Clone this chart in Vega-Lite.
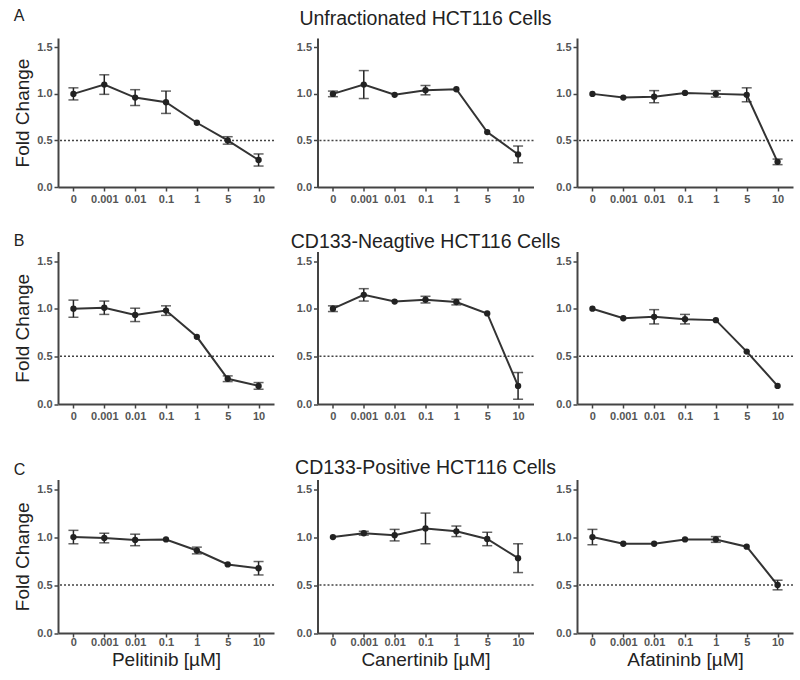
{
  "$schema": "https://vega.github.io/schema/vega-lite/v6.json",
  "padding": {"left": 13, "top": 8, "right": 7, "bottom": 4},
  "background": "white",
  "datasets": {
    "d": [
      {"row": "A", "drug": "Pelitinib", "conc": "0", "mean": 1.00, "err": 0.065},
      {"row": "A", "drug": "Pelitinib", "conc": "0.001", "mean": 1.10, "err": 0.105},
      {"row": "A", "drug": "Pelitinib", "conc": "0.01", "mean": 0.96, "err": 0.085},
      {"row": "A", "drug": "Pelitinib", "conc": "0.1", "mean": 0.91, "err": 0.12},
      {"row": "A", "drug": "Pelitinib", "conc": "1", "mean": 0.69, "err": 0},
      {"row": "A", "drug": "Pelitinib", "conc": "5", "mean": 0.50, "err": 0.04},
      {"row": "A", "drug": "Pelitinib", "conc": "10", "mean": 0.29, "err": 0.065},
      {"row": "A", "drug": "Canertinib", "conc": "0", "mean": 1.00, "err": 0.03},
      {"row": "A", "drug": "Canertinib", "conc": "0.001", "mean": 1.10, "err": 0.15},
      {"row": "A", "drug": "Canertinib", "conc": "0.01", "mean": 0.99, "err": 0},
      {"row": "A", "drug": "Canertinib", "conc": "0.1", "mean": 1.04, "err": 0.05},
      {"row": "A", "drug": "Canertinib", "conc": "1", "mean": 1.05, "err": 0},
      {"row": "A", "drug": "Canertinib", "conc": "5", "mean": 0.59, "err": 0},
      {"row": "A", "drug": "Canertinib", "conc": "10", "mean": 0.35, "err": 0.09},
      {"row": "A", "drug": "Afatinib", "conc": "0", "mean": 1.00, "err": 0},
      {"row": "A", "drug": "Afatinib", "conc": "0.001", "mean": 0.96, "err": 0},
      {"row": "A", "drug": "Afatinib", "conc": "0.01", "mean": 0.97, "err": 0.065},
      {"row": "A", "drug": "Afatinib", "conc": "0.1", "mean": 1.01, "err": 0},
      {"row": "A", "drug": "Afatinib", "conc": "1", "mean": 1.00, "err": 0.035},
      {"row": "A", "drug": "Afatinib", "conc": "5", "mean": 0.99, "err": 0.075},
      {"row": "A", "drug": "Afatinib", "conc": "10", "mean": 0.27, "err": 0.03},
      {"row": "B", "drug": "Pelitinib", "conc": "0", "mean": 1.00, "err": 0.09},
      {"row": "B", "drug": "Pelitinib", "conc": "0.001", "mean": 1.01, "err": 0.07},
      {"row": "B", "drug": "Pelitinib", "conc": "0.01", "mean": 0.935, "err": 0.07},
      {"row": "B", "drug": "Pelitinib", "conc": "0.1", "mean": 0.98, "err": 0.05},
      {"row": "B", "drug": "Pelitinib", "conc": "1", "mean": 0.705, "err": 0},
      {"row": "B", "drug": "Pelitinib", "conc": "5", "mean": 0.265, "err": 0.03},
      {"row": "B", "drug": "Pelitinib", "conc": "10", "mean": 0.19, "err": 0.035},
      {"row": "B", "drug": "Canertinib", "conc": "0", "mean": 1.00, "err": 0.03},
      {"row": "B", "drug": "Canertinib", "conc": "0.001", "mean": 1.145, "err": 0.065},
      {"row": "B", "drug": "Canertinib", "conc": "0.01", "mean": 1.075, "err": 0},
      {"row": "B", "drug": "Canertinib", "conc": "0.1", "mean": 1.095, "err": 0.035},
      {"row": "B", "drug": "Canertinib", "conc": "1", "mean": 1.07, "err": 0.03},
      {"row": "B", "drug": "Canertinib", "conc": "5", "mean": 0.95, "err": 0},
      {"row": "B", "drug": "Canertinib", "conc": "10", "mean": 0.19, "err": 0.14},
      {"row": "B", "drug": "Afatinib", "conc": "0", "mean": 1.00, "err": 0},
      {"row": "B", "drug": "Afatinib", "conc": "0.001", "mean": 0.90, "err": 0},
      {"row": "B", "drug": "Afatinib", "conc": "0.01", "mean": 0.915, "err": 0.075},
      {"row": "B", "drug": "Afatinib", "conc": "0.1", "mean": 0.89, "err": 0.05},
      {"row": "B", "drug": "Afatinib", "conc": "1", "mean": 0.88, "err": 0},
      {"row": "B", "drug": "Afatinib", "conc": "5", "mean": 0.55, "err": 0},
      {"row": "B", "drug": "Afatinib", "conc": "10", "mean": 0.19, "err": 0},
      {"row": "C", "drug": "Pelitinib", "conc": "0", "mean": 1.00, "err": 0.07},
      {"row": "C", "drug": "Pelitinib", "conc": "0.001", "mean": 0.99, "err": 0.05},
      {"row": "C", "drug": "Pelitinib", "conc": "0.01", "mean": 0.97, "err": 0.06},
      {"row": "C", "drug": "Pelitinib", "conc": "0.1", "mean": 0.975, "err": 0},
      {"row": "C", "drug": "Pelitinib", "conc": "1", "mean": 0.86, "err": 0.035},
      {"row": "C", "drug": "Pelitinib", "conc": "5", "mean": 0.715, "err": 0},
      {"row": "C", "drug": "Pelitinib", "conc": "10", "mean": 0.675, "err": 0.07},
      {"row": "C", "drug": "Canertinib", "conc": "0", "mean": 1.00, "err": 0},
      {"row": "C", "drug": "Canertinib", "conc": "0.001", "mean": 1.04, "err": 0.02},
      {"row": "C", "drug": "Canertinib", "conc": "0.01", "mean": 1.02, "err": 0.06},
      {"row": "C", "drug": "Canertinib", "conc": "0.1", "mean": 1.09, "err": 0.16},
      {"row": "C", "drug": "Canertinib", "conc": "1", "mean": 1.06, "err": 0.055},
      {"row": "C", "drug": "Canertinib", "conc": "5", "mean": 0.98, "err": 0.07},
      {"row": "C", "drug": "Canertinib", "conc": "10", "mean": 0.78, "err": 0.15},
      {"row": "C", "drug": "Afatinib", "conc": "0", "mean": 1.00, "err": 0.08},
      {"row": "C", "drug": "Afatinib", "conc": "0.001", "mean": 0.93, "err": 0},
      {"row": "C", "drug": "Afatinib", "conc": "0.01", "mean": 0.93, "err": 0},
      {"row": "C", "drug": "Afatinib", "conc": "0.1", "mean": 0.975, "err": 0},
      {"row": "C", "drug": "Afatinib", "conc": "1", "mean": 0.975, "err": 0.03},
      {"row": "C", "drug": "Afatinib", "conc": "5", "mean": 0.90, "err": 0},
      {"row": "C", "drug": "Afatinib", "conc": "10", "mean": 0.50, "err": 0.05}
    ]
  },
  "data": {"name": "d"},
  "spacing": 36.5,
  "vconcat": [
    {
      "spacing": 27.5,
      "vconcat": [
        {
          "spacing": 43.5, "bounds": "flush",
          "hconcat": [
            {
              "width": 216, "height": 149,
              "title": {"text": "A", "anchor": "start", "frame": "bounds", "fontSize": 16, "offset": 14},
              "transform": [{"filter": "datum.row === 'A' && datum.drug === 'Pelitinib'"}],
              "layer": [
                {"transform": [{"filter": "datum.conc === '0'"}], "mark": {"type": "rule", "strokeDash": [2, 2], "color": "#444", "strokeWidth": 1.5}, "encoding": {"y": {"datum": 0.5, "type": "quantitative"}}},
                {"mark": {"type": "line", "color": "#333", "strokeWidth": 2}, "encoding": {"x": {"field": "conc", "type": "ordinal", "sort": ["0", "0.001", "0.01", "0.1", "1", "5", "10"], "scale": {"type": "point", "padding": 0.5}, "axis": {"labelAngle": 0, "title": null}}, "y": {"field": "mean", "type": "quantitative", "scale": {"domain": [0, 1.5]}, "axis": {"values": [0, 0.5, 1, 1.5], "format": ".1f", "title": "Fold Change"}}}},
                {"transform": [{"filter": "datum.err > 0"}], "mark": {"type": "errorbar", "color": "#222", "thickness": 1.5, "ticks": {"size": 10, "thickness": 1.5}}, "encoding": {"x": {"field": "conc", "type": "ordinal", "sort": ["0", "0.001", "0.01", "0.1", "1", "5", "10"]}, "y": {"field": "mean", "type": "quantitative", "title": "Fold Change"}, "yError": {"field": "err"}}},
                {"mark": {"type": "point", "filled": true, "color": "#222", "size": 40, "opacity": 1}, "encoding": {"x": {"field": "conc", "type": "ordinal", "sort": ["0", "0.001", "0.01", "0.1", "1", "5", "10"]}, "y": {"field": "mean", "type": "quantitative", "title": "Fold Change"}}}
              ]
            },
            {
              "width": 216, "height": 149,
              "title": {"text": "Unfractionated HCT116 Cells", "anchor": "middle", "fontSize": 19.5, "offset": 9},
              "transform": [{"filter": "datum.row === 'A' && datum.drug === 'Canertinib'"}],
              "layer": [
                {"transform": [{"filter": "datum.conc === '0'"}], "mark": {"type": "rule", "strokeDash": [2, 2], "color": "#444", "strokeWidth": 1.5}, "encoding": {"y": {"datum": 0.5, "type": "quantitative"}}},
                {"mark": {"type": "line", "color": "#333", "strokeWidth": 2}, "encoding": {"x": {"field": "conc", "type": "ordinal", "sort": ["0", "0.001", "0.01", "0.1", "1", "5", "10"], "scale": {"type": "point", "padding": 0.5}, "axis": {"labelAngle": 0, "title": null}}, "y": {"field": "mean", "type": "quantitative", "scale": {"domain": [0, 1.5]}, "axis": {"values": [0, 0.5, 1, 1.5], "format": ".1f", "title": null}}}},
                {"transform": [{"filter": "datum.err > 0"}], "mark": {"type": "errorbar", "color": "#222", "thickness": 1.5, "ticks": {"size": 10, "thickness": 1.5}}, "encoding": {"x": {"field": "conc", "type": "ordinal", "sort": ["0", "0.001", "0.01", "0.1", "1", "5", "10"]}, "y": {"field": "mean", "type": "quantitative"}, "yError": {"field": "err"}}},
                {"mark": {"type": "point", "filled": true, "color": "#222", "size": 40, "opacity": 1}, "encoding": {"x": {"field": "conc", "type": "ordinal", "sort": ["0", "0.001", "0.01", "0.1", "1", "5", "10"]}, "y": {"field": "mean", "type": "quantitative"}}}
              ]
            },
            {
              "width": 216, "height": 149,
              "transform": [{"filter": "datum.row === 'A' && datum.drug === 'Afatinib'"}],
              "layer": [
                {"transform": [{"filter": "datum.conc === '0'"}], "mark": {"type": "rule", "strokeDash": [2, 2], "color": "#444", "strokeWidth": 1.5}, "encoding": {"y": {"datum": 0.5, "type": "quantitative"}}},
                {"mark": {"type": "line", "color": "#333", "strokeWidth": 2}, "encoding": {"x": {"field": "conc", "type": "ordinal", "sort": ["0", "0.001", "0.01", "0.1", "1", "5", "10"], "scale": {"type": "point", "padding": 0.5}, "axis": {"labelAngle": 0, "title": null}}, "y": {"field": "mean", "type": "quantitative", "scale": {"domain": [0, 1.5]}, "axis": {"values": [0, 0.5, 1, 1.5], "format": ".1f", "title": null}}}},
                {"transform": [{"filter": "datum.err > 0"}], "mark": {"type": "errorbar", "color": "#222", "thickness": 1.5, "ticks": {"size": 10, "thickness": 1.5}}, "encoding": {"x": {"field": "conc", "type": "ordinal", "sort": ["0", "0.001", "0.01", "0.1", "1", "5", "10"]}, "y": {"field": "mean", "type": "quantitative"}, "yError": {"field": "err"}}},
                {"mark": {"type": "point", "filled": true, "color": "#222", "size": 40, "opacity": 1}, "encoding": {"x": {"field": "conc", "type": "ordinal", "sort": ["0", "0.001", "0.01", "0.1", "1", "5", "10"]}, "y": {"field": "mean", "type": "quantitative"}}}
              ]
            }
          ]
        },
        {
          "spacing": 43.5, "bounds": "flush",
          "hconcat": [
            {
              "width": 216, "height": 152.5,
              "title": {"text": "B", "anchor": "start", "frame": "bounds", "fontSize": 16, "offset": 3},
              "transform": [{"filter": "datum.row === 'B' && datum.drug === 'Pelitinib'"}],
              "layer": [
                {"transform": [{"filter": "datum.conc === '0'"}], "mark": {"type": "rule", "strokeDash": [2, 2], "color": "#444", "strokeWidth": 1.5}, "encoding": {"y": {"datum": 0.5, "type": "quantitative"}}},
                {"mark": {"type": "line", "color": "#333", "strokeWidth": 2}, "encoding": {"x": {"field": "conc", "type": "ordinal", "sort": ["0", "0.001", "0.01", "0.1", "1", "5", "10"], "scale": {"type": "point", "padding": 0.5}, "axis": {"labelAngle": 0, "title": null}}, "y": {"field": "mean", "type": "quantitative", "scale": {"domain": [0, 1.5]}, "axis": {"values": [0, 0.5, 1, 1.5], "format": ".1f", "title": "Fold Change"}}}},
                {"transform": [{"filter": "datum.err > 0"}], "mark": {"type": "errorbar", "color": "#222", "thickness": 1.5, "ticks": {"size": 10, "thickness": 1.5}}, "encoding": {"x": {"field": "conc", "type": "ordinal", "sort": ["0", "0.001", "0.01", "0.1", "1", "5", "10"]}, "y": {"field": "mean", "type": "quantitative", "title": "Fold Change"}, "yError": {"field": "err"}}},
                {"mark": {"type": "point", "filled": true, "color": "#222", "size": 40, "opacity": 1}, "encoding": {"x": {"field": "conc", "type": "ordinal", "sort": ["0", "0.001", "0.01", "0.1", "1", "5", "10"]}, "y": {"field": "mean", "type": "quantitative", "title": "Fold Change"}}}
              ]
            },
            {
              "width": 216, "height": 152.5,
              "title": {"text": "CD133-Neagtive HCT116 Cells", "anchor": "middle", "fontSize": 19.5, "offset": -1},
              "transform": [{"filter": "datum.row === 'B' && datum.drug === 'Canertinib'"}],
              "layer": [
                {"transform": [{"filter": "datum.conc === '0'"}], "mark": {"type": "rule", "strokeDash": [2, 2], "color": "#444", "strokeWidth": 1.5}, "encoding": {"y": {"datum": 0.5, "type": "quantitative"}}},
                {"mark": {"type": "line", "color": "#333", "strokeWidth": 2}, "encoding": {"x": {"field": "conc", "type": "ordinal", "sort": ["0", "0.001", "0.01", "0.1", "1", "5", "10"], "scale": {"type": "point", "padding": 0.5}, "axis": {"labelAngle": 0, "title": null}}, "y": {"field": "mean", "type": "quantitative", "scale": {"domain": [0, 1.5]}, "axis": {"values": [0, 0.5, 1, 1.5], "format": ".1f", "title": null}}}},
                {"transform": [{"filter": "datum.err > 0"}], "mark": {"type": "errorbar", "color": "#222", "thickness": 1.5, "ticks": {"size": 10, "thickness": 1.5}}, "encoding": {"x": {"field": "conc", "type": "ordinal", "sort": ["0", "0.001", "0.01", "0.1", "1", "5", "10"]}, "y": {"field": "mean", "type": "quantitative"}, "yError": {"field": "err"}}},
                {"mark": {"type": "point", "filled": true, "color": "#222", "size": 40, "opacity": 1}, "encoding": {"x": {"field": "conc", "type": "ordinal", "sort": ["0", "0.001", "0.01", "0.1", "1", "5", "10"]}, "y": {"field": "mean", "type": "quantitative"}}}
              ]
            },
            {
              "width": 216, "height": 152.5,
              "transform": [{"filter": "datum.row === 'B' && datum.drug === 'Afatinib'"}],
              "layer": [
                {"transform": [{"filter": "datum.conc === '0'"}], "mark": {"type": "rule", "strokeDash": [2, 2], "color": "#444", "strokeWidth": 1.5}, "encoding": {"y": {"datum": 0.5, "type": "quantitative"}}},
                {"mark": {"type": "line", "color": "#333", "strokeWidth": 2}, "encoding": {"x": {"field": "conc", "type": "ordinal", "sort": ["0", "0.001", "0.01", "0.1", "1", "5", "10"], "scale": {"type": "point", "padding": 0.5}, "axis": {"labelAngle": 0, "title": null}}, "y": {"field": "mean", "type": "quantitative", "scale": {"domain": [0, 1.5]}, "axis": {"values": [0, 0.5, 1, 1.5], "format": ".1f", "title": null}}}},
                {"transform": [{"filter": "datum.err > 0"}], "mark": {"type": "errorbar", "color": "#222", "thickness": 1.5, "ticks": {"size": 10, "thickness": 1.5}}, "encoding": {"x": {"field": "conc", "type": "ordinal", "sort": ["0", "0.001", "0.01", "0.1", "1", "5", "10"]}, "y": {"field": "mean", "type": "quantitative"}, "yError": {"field": "err"}}},
                {"mark": {"type": "point", "filled": true, "color": "#222", "size": 40, "opacity": 1}, "encoding": {"x": {"field": "conc", "type": "ordinal", "sort": ["0", "0.001", "0.01", "0.1", "1", "5", "10"]}, "y": {"field": "mean", "type": "quantitative"}}}
              ]
            }
          ]
        }
      ]
    },
    {
      "spacing": 43.5, "bounds": "flush",
      "hconcat": [
        {
          "width": 216, "height": 153.5,
          "title": {"text": "C", "anchor": "start", "frame": "bounds", "fontSize": 16, "offset": 2},
          "transform": [{"filter": "datum.row === 'C' && datum.drug === 'Pelitinib'"}],
          "layer": [
            {"transform": [{"filter": "datum.conc === '0'"}], "mark": {"type": "rule", "strokeDash": [2, 2], "color": "#444", "strokeWidth": 1.5}, "encoding": {"y": {"datum": 0.5, "type": "quantitative"}}},
            {"mark": {"type": "line", "color": "#333", "strokeWidth": 2}, "encoding": {"x": {"field": "conc", "type": "ordinal", "sort": ["0", "0.001", "0.01", "0.1", "1", "5", "10"], "scale": {"type": "point", "padding": 0.5}, "axis": {"labelAngle": 0, "title": "Pelitinib [µM]", "labelPadding": -1, "titlePadding": 3}}, "y": {"field": "mean", "type": "quantitative", "scale": {"domain": [0, 1.5]}, "axis": {"values": [0, 0.5, 1, 1.5], "format": ".1f", "title": "Fold Change"}}}},
            {"transform": [{"filter": "datum.err > 0"}], "mark": {"type": "errorbar", "color": "#222", "thickness": 1.5, "ticks": {"size": 10, "thickness": 1.5}}, "encoding": {"x": {"field": "conc", "type": "ordinal", "sort": ["0", "0.001", "0.01", "0.1", "1", "5", "10"], "title": "Pelitinib [µM]"}, "y": {"field": "mean", "type": "quantitative", "title": "Fold Change"}, "yError": {"field": "err"}}},
            {"mark": {"type": "point", "filled": true, "color": "#222", "size": 40, "opacity": 1}, "encoding": {"x": {"field": "conc", "type": "ordinal", "sort": ["0", "0.001", "0.01", "0.1", "1", "5", "10"], "title": "Pelitinib [µM]"}, "y": {"field": "mean", "type": "quantitative", "title": "Fold Change"}}}
          ]
        },
        {
          "width": 216, "height": 153.5,
          "title": {"text": "CD133-Positive HCT116 Cells", "anchor": "middle", "fontSize": 19.5, "offset": 1},
          "transform": [{"filter": "datum.row === 'C' && datum.drug === 'Canertinib'"}],
          "layer": [
            {"transform": [{"filter": "datum.conc === '0'"}], "mark": {"type": "rule", "strokeDash": [2, 2], "color": "#444", "strokeWidth": 1.5}, "encoding": {"y": {"datum": 0.5, "type": "quantitative"}}},
            {"mark": {"type": "line", "color": "#333", "strokeWidth": 2}, "encoding": {"x": {"field": "conc", "type": "ordinal", "sort": ["0", "0.001", "0.01", "0.1", "1", "5", "10"], "scale": {"type": "point", "padding": 0.5}, "axis": {"labelAngle": 0, "title": "Canertinib [µM]", "labelPadding": -1, "titlePadding": 3}}, "y": {"field": "mean", "type": "quantitative", "scale": {"domain": [0, 1.5]}, "axis": {"values": [0, 0.5, 1, 1.5], "format": ".1f", "title": null}}}},
            {"transform": [{"filter": "datum.err > 0"}], "mark": {"type": "errorbar", "color": "#222", "thickness": 1.5, "ticks": {"size": 10, "thickness": 1.5}}, "encoding": {"x": {"field": "conc", "type": "ordinal", "sort": ["0", "0.001", "0.01", "0.1", "1", "5", "10"], "title": "Canertinib [µM]"}, "y": {"field": "mean", "type": "quantitative"}, "yError": {"field": "err"}}},
            {"mark": {"type": "point", "filled": true, "color": "#222", "size": 40, "opacity": 1}, "encoding": {"x": {"field": "conc", "type": "ordinal", "sort": ["0", "0.001", "0.01", "0.1", "1", "5", "10"], "title": "Canertinib [µM]"}, "y": {"field": "mean", "type": "quantitative"}}}
          ]
        },
        {
          "width": 216, "height": 153.5,
          "transform": [{"filter": "datum.row === 'C' && datum.drug === 'Afatinib'"}],
          "layer": [
            {"transform": [{"filter": "datum.conc === '0'"}], "mark": {"type": "rule", "strokeDash": [2, 2], "color": "#444", "strokeWidth": 1.5}, "encoding": {"y": {"datum": 0.5, "type": "quantitative"}}},
            {"mark": {"type": "line", "color": "#333", "strokeWidth": 2}, "encoding": {"x": {"field": "conc", "type": "ordinal", "sort": ["0", "0.001", "0.01", "0.1", "1", "5", "10"], "scale": {"type": "point", "padding": 0.5}, "axis": {"labelAngle": 0, "title": "Afatininb [µM]", "labelPadding": -1, "titlePadding": 3}}, "y": {"field": "mean", "type": "quantitative", "scale": {"domain": [0, 1.5]}, "axis": {"values": [0, 0.5, 1, 1.5], "format": ".1f", "title": null}}}},
            {"transform": [{"filter": "datum.err > 0"}], "mark": {"type": "errorbar", "color": "#222", "thickness": 1.5, "ticks": {"size": 10, "thickness": 1.5}}, "encoding": {"x": {"field": "conc", "type": "ordinal", "sort": ["0", "0.001", "0.01", "0.1", "1", "5", "10"], "title": "Afatininb [µM]"}, "y": {"field": "mean", "type": "quantitative"}, "yError": {"field": "err"}}},
            {"mark": {"type": "point", "filled": true, "color": "#222", "size": 40, "opacity": 1}, "encoding": {"x": {"field": "conc", "type": "ordinal", "sort": ["0", "0.001", "0.01", "0.1", "1", "5", "10"], "title": "Afatininb [µM]"}, "y": {"field": "mean", "type": "quantitative"}}}
          ]
        }
      ]
    }
  ],
  "config": {
    "font": "Liberation Sans",
    "view": {"stroke": null},
    "title": {"font": "Liberation Sans", "fontWeight": "normal", "color": "#222"},
    "axis": {
      "domainColor": "#444", "domainWidth": 2, "tickColor": "#444", "tickWidth": 1.5, "tickSize": 4,
      "labelFont": "Liberation Sans", "labelFontSize": 11, "labelColor": "#555", "labelFontWeight": "bold",
      "titleFont": "Liberation Sans", "titleFontWeight": "normal", "titleColor": "#222", "titleFontSize": 19,
      "grid": false
    },
    "axisY": {"titlePadding": 4, "labelPadding": 2},
    "axisX": {"titlePadding": 2, "labelPadding": 2}
  }
}
